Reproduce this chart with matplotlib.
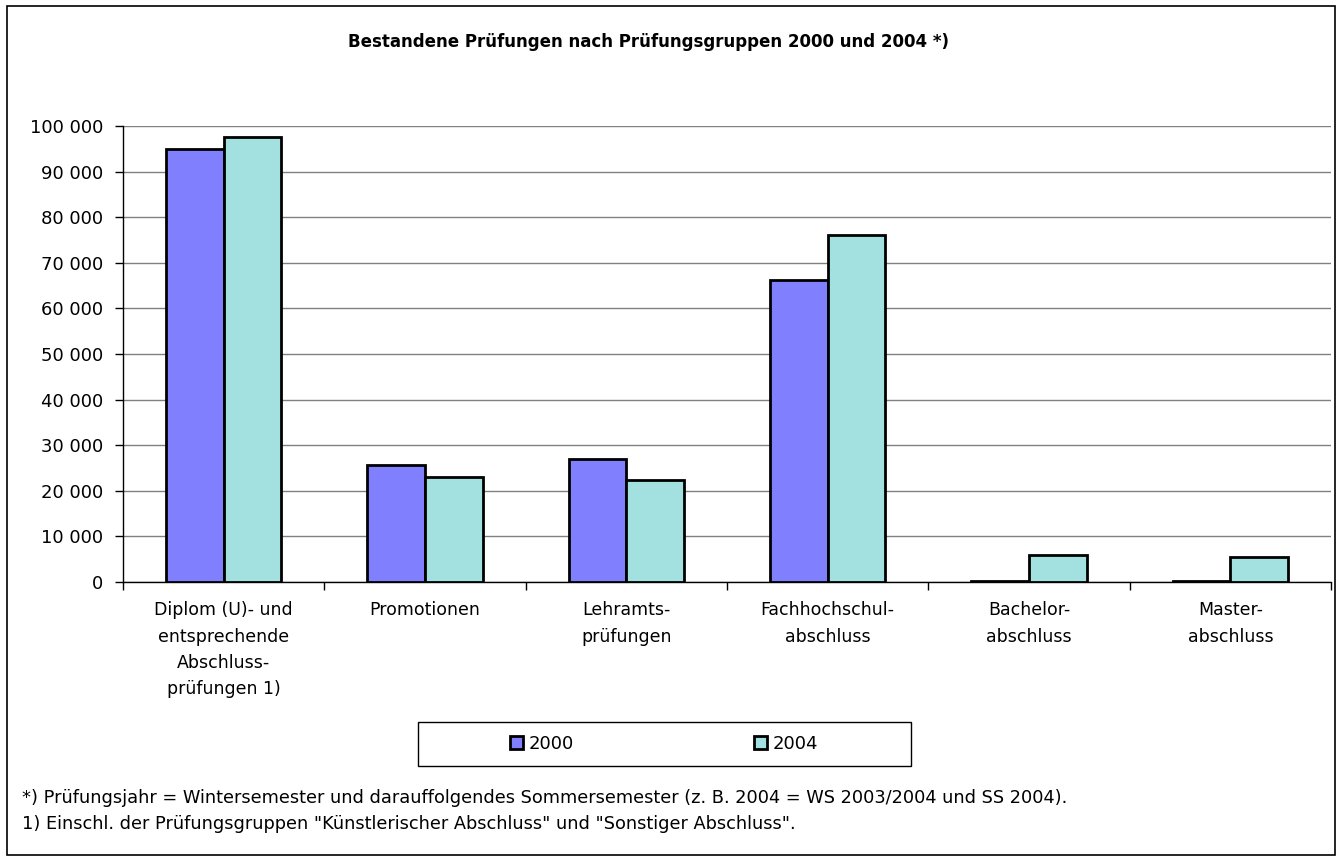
import matplotlib.pyplot as plt
import numpy as np
from matplotlib.patches import Rectangle
from matplotlib.ticker import FuncFormatter

plt.rcParams['font.family'] = ['DejaVu Sans']

# Data.
categories = [
    'Diplom (U)- und\nentsprechende\nAbschluss-\nprüfungen 1)',
    'Promotionen',
    'Lehramts-\nprüfungen',
    'Fachhochschul-\nabschluss',
    'Bachelor-\nabschluss',
    'Master-\nabschluss',
]
years = ['2000', '2004']
values_2000 = [95000, 25700, 27000, 66200, 150, 300]
values_2004 = [97600, 23000, 22400, 76100, 5900, 5500]
y_ticks = list(range(0, 100001, 10000))

title = 'Bestandene Prüfungen nach Prüfungsgruppen 2000 und 2004 *)'
notes = [
    '*) Prüfungsjahr = Wintersemester und darauffolgendes Sommersemester (z. B. 2004 = WS 2003/2004 und SS 2004).',
    '1) Einschl. der Prüfungsgruppen "Künstlerischer Abschluss" und "Sonstiger Abschluss".',
]

colors = ['#8080ff', '#a3e0e0']

fig = plt.figure(figsize=(13.42, 8.57), dpi=100)
W, H = 1342, 857
ax = fig.add_axes([123 / W, 1 - 582 / H, (1331 - 123) / W, (582 - 126) / H])

x = np.arange(len(categories))
width = 0.286
for i, (vals, year) in enumerate(zip([values_2000, values_2004], years)):
    ax.bar(x - width / 2 + i * width, vals, width, color=colors[i],
           edgecolor='black', linewidth=2, label=year, zorder=3)

ax.set_xlim(-0.5, len(categories) - 0.5)
ax.set_ylim(0, 100000)
ax.set_yticks(y_ticks)
ax.yaxis.set_major_formatter(FuncFormatter(lambda v, _: f'{int(v):,}'.replace(',', ' ')))
ax.grid(axis='y', color='#808080', linewidth=1, zorder=0)

# Category ticks sit between groups, labels centred under each group.
ax.set_xticks(np.arange(len(categories) + 1) - 0.5)
ax.set_xticklabels([])
ax.set_xticks(x, minor=True)
ax.set_xticklabels(categories, minor=True, fontsize=12.5, linespacing=1.58)
ax.tick_params(axis='x', which='minor', length=0, pad=14)
ax.tick_params(axis='x', which='major', length=6, width=1, color='black')
ax.tick_params(axis='y', length=6, width=1, labelsize=13, pad=8)

for side in ['top', 'right']:
    ax.spines[side].set_visible(False)
for side in ['left', 'bottom']:
    ax.spines[side].set_color('black')
    ax.spines[side].set_linewidth(1)

fig.text(648 / W, 1 - 42 / H, title, ha='center', va='center',
         fontsize=12, fontweight='bold')

# Legend entries without frame, box drawn separately to match the wide Excel box.
leg = fig.legend(loc='center', bbox_to_anchor=(664 / W, 1 - 744 / H), ncol=2,
                 frameon=False, fontsize=13,
                 handlelength=0.7, handleheight=0.7, handletextpad=0.3,
                 columnspacing=10.0)
leg.set_in_layout(False)
for p in leg.get_patches():
    p.set_linewidth(2)
fig.add_artist(Rectangle((418 / W, 1 - 766 / H), (911 - 418) / W, 44 / H,
                         transform=fig.transFigure, fill=False,
                         edgecolor='black', linewidth=1))

for k, note in enumerate(notes):
    fig.text(22 / W, 1 - (798 + 26 * k) / H, note, ha='left', va='center', fontsize=12.8)

fig.add_artist(Rectangle((7 / W, 2 / H), (W - 14) / W, (H - 8) / H,
                         transform=fig.transFigure, fill=False,
                         edgecolor='black', linewidth=1.2))

fig.savefig('out.png', dpi=100)
